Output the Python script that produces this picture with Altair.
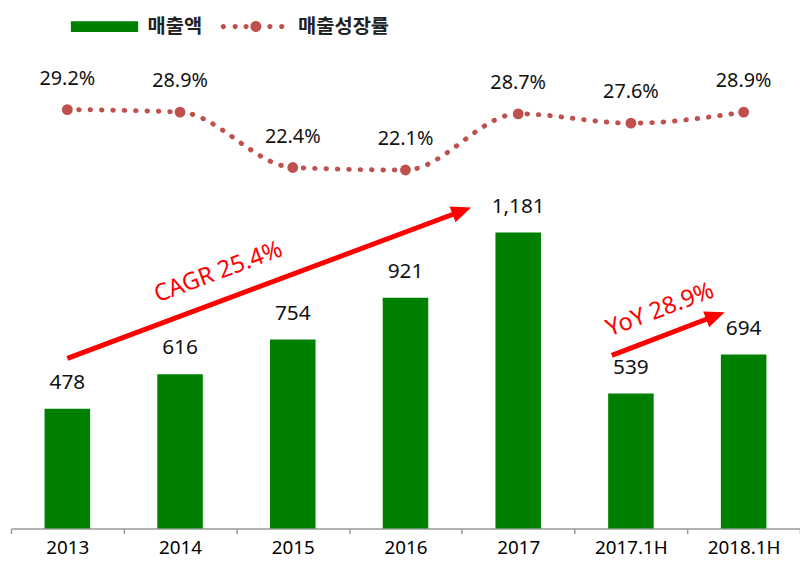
import altair as alt
import pandas as pd

categories = ["2013", "2014", "2015", "2016", "2017", "2017.1H", "2018.1H"]
sales = [478, 616, 754, 921, 1181, 539, 694]
growth = [29.2, 28.9, 22.4, 22.1, 28.7, 27.6, 28.9]
sales_name = "매출액"
growth_name = "매출성장률"

# annotations, in data units (x: category-band units, y: sales units)
arrow_labels = ["CAGR 25.4%", "YoY 28.9%"]
arrow_x = [0.5, 5.33]
arrow_y = [679, 691]
arrow_x2 = [4.0, 6.25]
arrow_y2 = [1267, 849]
label_x = [1.84, 5.76]
label_y = [1022, 872]
arrow_angle = [339.5, 339.3]

df = pd.DataFrame({"cat": categories, "sales": sales, "growth": growth,
                   "s1": sales_name, "s2": growth_name})
ann = pd.DataFrame({"label": arrow_labels, "ax": arrow_x, "ay": arrow_y,
                    "ax2": arrow_x2, "ay2": arrow_y2, "lx": label_x,
                    "ly": label_y, "angle": arrow_angle})

W, H = 797, 523
FONT = "Noto Sans"
KFONT = "Noto Sans CJK KR"
GREEN = "#008000"
RED_DOT = "#C0504D"
RED = "#FF0000"

cat_scale = alt.Scale(domain=categories, paddingInner=0, paddingOuter=0)
sales_scale = alt.Scale(domain=[0, 2066], nice=False, zero=True)
growth_scale = alt.Scale(domain=[-20, 40.8], nice=False, zero=False)
band_scale = alt.Scale(domain=[0, 7], nice=False, zero=False)

x_axis = alt.Axis(title=None, labelAngle=0, labelFont=FONT, labelFontSize=19,
                  labelColor="#000", domainColor="#999999", domainWidth=1.5,
                  tickColor="#999999", tickWidth=1.5, tickSize=5, tickBand="extent",
                  labelPadding=5, grid=False)

x_main = alt.X("cat:N", scale=cat_scale, sort=categories, axis=x_axis)
x_plain = alt.X("cat:N", scale=cat_scale, sort=categories, axis=None)
y_sales = alt.Y("sales:Q", scale=sales_scale, axis=None)
y_growth = alt.Y("growth:Q", scale=growth_scale, axis=None)

# legend symbols: drawn wider than their nominal 17px box
rect_symbol = "M-4,-0.64H4V0.64H-4Z"

def circ(cx, r):
    return f"M{cx - r},0a{r},{r} 0 1,0 {2 * r},0a{r},{r} 0 1,0 {-2 * r},0"

k = 3.65
dots_symbol = "".join(circ(round(c * k, 3), round(0.085 * k, 3))
                      for c in [-0.95, -0.565, -0.21, 0.565, 0.95]) + circ(round(0.11 * k, 3), round(0.18 * k, 3))

base = alt.Chart(df)

bars = base.mark_bar(size=46).encode(
    x=x_main, y=y_sales,
    color=alt.Color("s1:N", scale=alt.Scale(domain=[sales_name], range=[GREEN]),
                    legend=alt.Legend(title=None, orient="none", legendX=84.5, legendY=6,
                                      symbolType=rect_symbol, symbolSize=289,
                                      symbolStrokeWidth=0, padding=0,
                                      labelFont=KFONT, labelFontSize=20,
                                      labelFontWeight="bold", labelColor="#222",
                                      labelOffset=33.5, labelLimit=300)),
)

bar_text = base.mark_text(dy=-26, fontSize=21, font=FONT, color="#111").encode(
    x=x_plain, y=y_sales, text=alt.Text("sales:Q", format=","))

line = base.mark_line(color=RED_DOT, strokeWidth=5, strokeDash=[0.5, 11],
                      strokeCap="round", interpolate="monotone").encode(
    x=x_plain, y=y_growth)

points = base.mark_circle(size=120, opacity=1).encode(
    x=x_plain, y=y_growth,
    color=alt.Color("s2:N", scale=alt.Scale(domain=[growth_name], range=[RED_DOT]),
                    legend=alt.Legend(title=None, orient="none", legendX=234, legendY=6,
                                      symbolType=dots_symbol, symbolSize=289,
                                      symbolStrokeWidth=0, padding=0,
                                      labelFont=KFONT, labelFontSize=20,
                                      labelFontWeight="bold", labelColor="#222",
                                      labelOffset=36, labelLimit=300)),
)

growth_text = base.transform_calculate(
    glabel="format(datum.growth, '.1f') + '%'"
).mark_text(dy=-31, fontSize=20, font=FONT, color="#111").encode(
    x=x_plain, y=y_growth, text="glabel:N")

a = alt.Chart(ann)
arrows = a.mark_rule(color=RED, strokeWidth=5).encode(
    x=alt.X("ax:Q", scale=band_scale, axis=None), x2="ax2:Q",
    y=alt.Y("ay:Q", scale=sales_scale, axis=None), y2="ay2:Q")

heads = a.mark_point(shape="M1,0L-1,-0.85L-1,0.85Z", filled=True, size=400,
                     color=RED, opacity=1, strokeWidth=0).encode(
    x=alt.X("ax2:Q", scale=band_scale, axis=None),
    y=alt.Y("ay2:Q", scale=sales_scale, axis=None),
    angle=alt.Angle("angle:Q", scale=None))

arrow_text = a.mark_text(fontSize=24, font=FONT, color=RED).encode(
    x=alt.X("lx:Q", scale=band_scale, axis=None),
    y=alt.Y("ly:Q", scale=sales_scale, axis=None),
    text="label:N",
    angle=alt.Angle("angle:Q", scale=None))

chart = alt.layer(
    bars, bar_text, line, points, growth_text, arrows, heads, arrow_text
).resolve_scale(
    x="independent", y="independent", color="independent"
).resolve_legend(color="independent").properties(
    width=W, height=H,
    autosize=alt.AutoSizeParams(type="none"),
    padding={"left": 3, "right": 0, "top": 0, "bottom": 31},
    background="white",
).configure_view(stroke=None)

chart.save("out.html", embed_options={"renderer": "svg", "actions": False})
